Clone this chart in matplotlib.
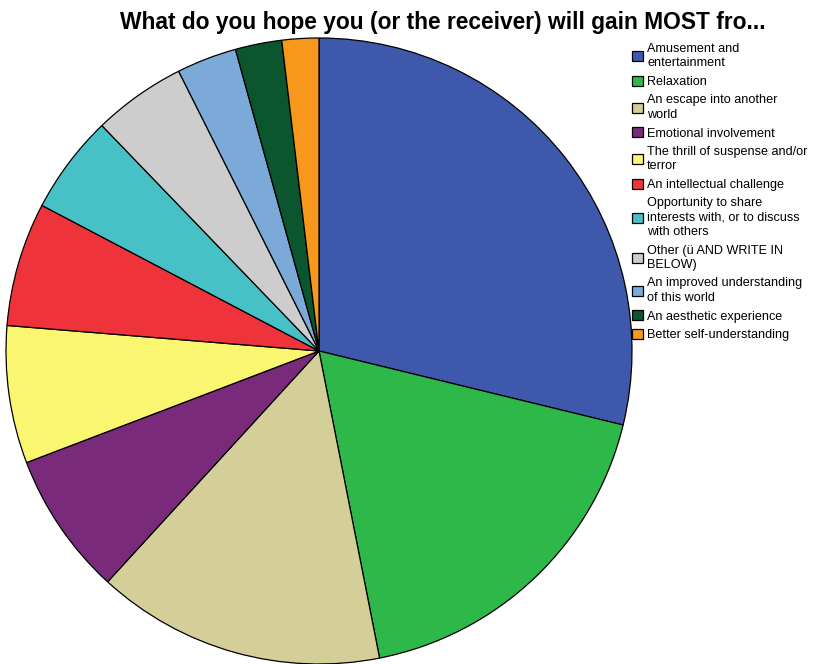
import matplotlib.pyplot as plt

plt.rcParams['font.family'] = ['Liberation Sans', 'DejaVu Sans']

labels = [
    'Amusement and\nentertainment',
    'Relaxation',
    'An escape into another\nworld',
    'Emotional involvement',
    'The thrill of suspense and/or\nterror',
    'An intellectual challenge',
    'Opportunity to share\ninterests with, or to discuss\nwith others',
    'Other (ü AND WRITE IN\nBELOW)',
    'An improved understanding\nof this world',
    'An aesthetic experience',
    'Better self-understanding',
]
# share of responses, percent
percents = [28.8, 18.1, 14.9, 7.4, 7.1, 6.4, 5.1, 4.8, 3.1, 2.4, 1.9]
colors = ['#3E58AC', '#2EB84A', '#D4CE99', '#7A2A7A', '#FAF66F', '#EF333B',
          '#48C1C6', '#CDCDCD', '#7BAAD8', '#0B552F', '#F7981D']

fig = plt.figure(figsize=(8.37, 6.64), dpi=100)
ax = fig.add_axes([6 / 837, 0 / 664, 626 / 837, 626 / 664])

wedges, _ = ax.pie(percents, colors=colors, startangle=90, counterclock=False,
                   radius=1, wedgeprops=dict(edgecolor='black', linewidth=0.9))
ax.set_xlim(-1.0, 1.0)
ax.set_ylim(-1.0, 1.0)
ax.set_aspect('equal')

fig.text(443 / 837, 1 - 22 / 664, 'What do you hope you (or the receiver) will gain MOST fro...',
         ha='center', va='center', fontsize=16.4, fontweight='bold')

leg = fig.legend(wedges, labels, loc='upper left', bbox_to_anchor=(632 / 837, 1 - 43 / 664),
                 frameon=False, fontsize=9.1, handlelength=0.85, handleheight=0.85,
                 handletextpad=0.35, labelspacing=0.5, borderaxespad=0, borderpad=0)
for t in leg.get_texts():
    t.set_linespacing(1.27)

fig.savefig('out.png', dpi=100)
